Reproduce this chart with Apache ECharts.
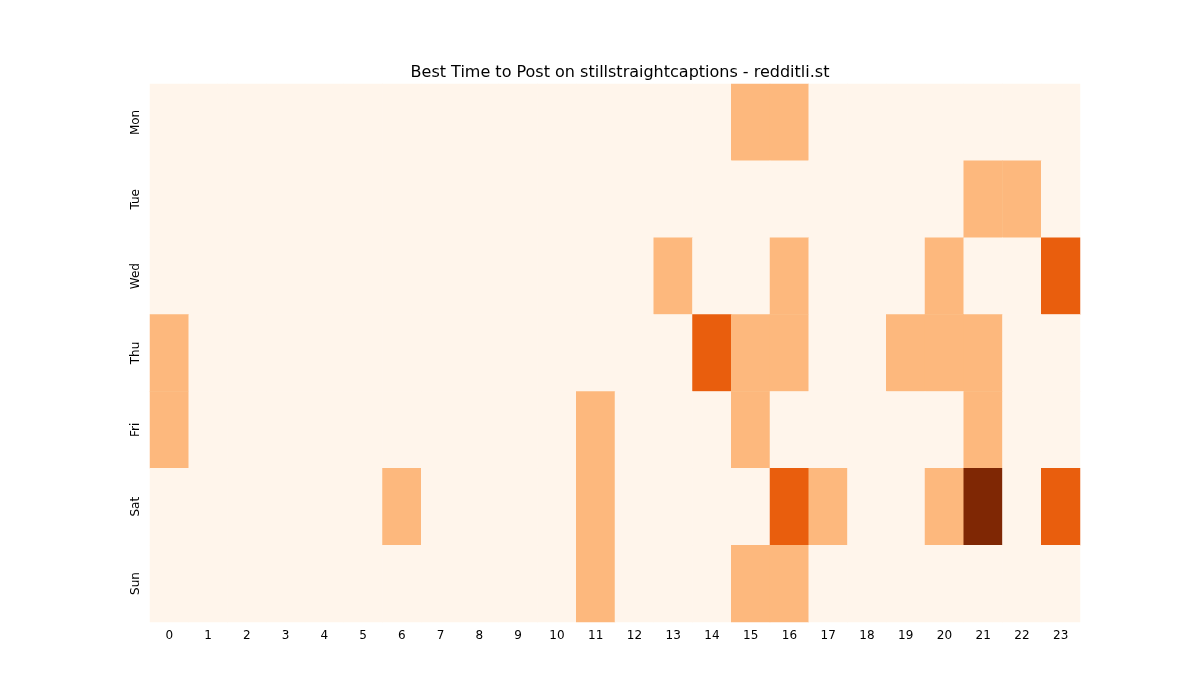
<!DOCTYPE html>
<html><head><meta charset="utf-8">
<script src="https://cdn.jsdelivr.net/npm/echarts@6/dist/echarts.min.js"></script>
<style>html,body{margin:0;padding:0;background:#fff}#c{width:1200px;height:700px}</style>
</head><body><div id="c"></div>
<script>
const hours = ['0','1','2','3','4','5','6','7','8','9','10','11','12','13','14','15','16','17','18','19','20','21','22','23'];
const days = ['Mon','Tue','Wed','Thu','Fri','Sat','Sun'];
const mon = [0,0,0,0,0,0,0,0,0,0,0,0,0,0,0,1,1,0,0,0,0,0,0,0];
const tue = [0,0,0,0,0,0,0,0,0,0,0,0,0,0,0,0,0,0,0,0,0,1,1,0];
const wed = [0,0,0,0,0,0,0,0,0,0,0,0,0,1,0,0,1,0,0,0,1,0,0,2];
const thu = [1,0,0,0,0,0,0,0,0,0,0,0,0,0,2,1,1,0,0,1,1,1,0,0];
const fri = [1,0,0,0,0,0,0,0,0,0,0,1,0,0,0,1,0,0,0,0,0,1,0,0];
const sat = [0,0,0,0,0,0,1,0,0,0,0,1,0,0,0,0,2,1,0,0,1,3,0,2];
const sun = [0,0,0,0,0,0,0,0,0,0,0,1,0,0,0,1,1,0,0,0,0,0,0,0];
const rows = [mon,tue,wed,thu,fri,sat,sun];
const data = [];
rows.forEach((r,y)=>r.forEach((v,x)=>data.push([x,y,v])));
const chart = echarts.init(document.getElementById('c'));
chart.setOption({
  animation:false,
  title:{text:'Best Time to Post on stillstraightcaptions - redditli.st',left:615,top:60,textAlign:'center',textStyle:{fontFamily:'DejaVu Sans',fontSize:16,fontWeight:'normal',color:'#000'}},
  grid:{left:150,top:84,width:930,height:538},
  xAxis:{type:'category',data:hours,axisLine:{show:false},axisTick:{length:4,lineStyle:{color:'#000'}},axisLabel:{color:'#000',fontFamily:'DejaVu Sans',fontSize:12},splitLine:{show:false}},
  yAxis:{type:'category',data:days,inverse:true,axisLine:{show:false},axisTick:{length:4,lineStyle:{color:'#000'}},axisLabel:{color:'#000',fontFamily:'DejaVu Sans',fontSize:12,rotate:90,align:'center',verticalAlign:'bottom',margin:8},splitLine:{show:false}},
  visualMap:{show:false,type:'piecewise',pieces:[{value:0,color:'#fff5eb'},{value:1,color:'#fdb87d'},{value:2,color:'#e95e0d'},{value:3,color:'#7f2704'}],dimension:2},
  series:[{type:'heatmap',data:data,itemStyle:{borderWidth:0}}],
  graphic:[{type:'text',left:550,top:337,style:{text:'redditli.st',fontFamily:'DejaVu Sans',fontSize:26,fill:'rgba(150,150,150,0.55)'}}]
});
</script></body></html>
